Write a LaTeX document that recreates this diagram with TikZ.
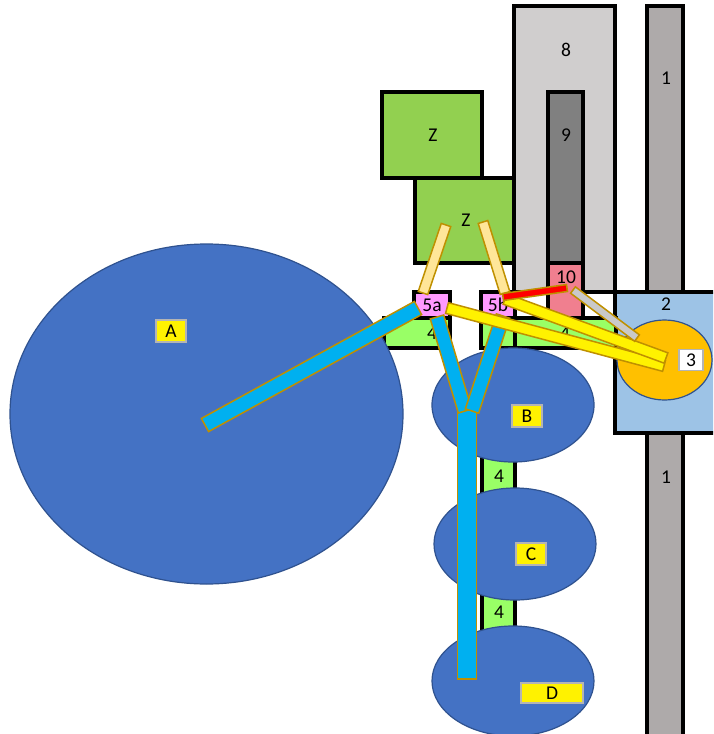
\documentclass[tikz,border=0pt]{standalone}
\usepackage{fontspec}
\setmainfont{Carlito}
\usetikzlibrary{calc}

\definecolor{blueA}{HTML}{4472C4}
\definecolor{blueEdge}{HTML}{2F528F}
\definecolor{rodBlue}{HTML}{00B0F0}
\definecolor{goldEdge}{HTML}{BF9000}
\definecolor{paleOrange}{HTML}{FFE699}
\definecolor{greyLight}{HTML}{D0CECE}
\definecolor{greyDark}{HTML}{808080}
\definecolor{greyRail}{HTML}{AEAAAA}
\definecolor{pinkTen}{HTML}{F07F8F}
\definecolor{pinkFive}{HTML}{FF99FF}
\definecolor{greenZ}{HTML}{92D050}
\definecolor{greenFour}{HTML}{99FF66}
\definecolor{blueTwo}{HTML}{9DC3E6}
\definecolor{orangeThree}{HTML}{FFC000}
\definecolor{tagEdge}{HTML}{B4B4B4}
\definecolor{greyRod}{HTML}{C9C9C9}

% rod from #1 to #2, half width #3, fill #4
\newcommand{\rodbar}[4]{%
  \draw[rodline, fill=#4] ($(#1)!#3!90:(#2)$) -- ($(#2)!#3!-90:(#1)$)
    -- ($(#2)!#3!90:(#1)$) -- ($(#1)!#3!-90:(#2)$) -- cycle;}

\begin{document}
\begin{tikzpicture}[x=1pt, y=-1pt,
  box/.style={draw=black, line width=4pt},
  blob/.style={draw=blueEdge, line width=1.2pt, fill=blueA},
  rodline/.style={draw=goldEdge, line width=1.5pt, line join=miter},
  tag/.style={draw=tagEdge, line width=1.2pt, fill=yellow, inner sep=0pt,
    minimum width=30pt, minimum height=22pt},
  every node/.style={font=\fontsize{19.5}{23}\selectfont}]
  \useasboundingbox (0,0) rectangle (713,734);
  \fill[white] (0,0) rectangle (713,734);
  \clip (0,0) rectangle (713,734);

  % rails and housings
  \draw[box, fill=greyLight] (514,6) rectangle (615,292);
  \draw[box, fill=white] (514,292) rectangle (615,318);
  \draw[box, fill=greyDark] (548,92) rectangle (583,263);
  \draw[box, fill=pinkTen] (548,263) rectangle (583,318);
  \draw[box, fill=greyRail] (647,6) rectangle (683,745);
  \draw[box, fill=blueTwo] (615,292) rectangle (725,433);
  \draw[box, fill=greenZ] (382,92) rectangle (482,178);
  \draw[box, fill=greenZ] (415,178) rectangle (514,263);

  % green spacers
  \draw[box, fill=greenFour] (384,318) rectangle (450,348);
  \draw[box, fill=greenFour] (481,318) rectangle (515,348);
  \draw[box, fill=greenFour] (515,318) rectangle (616,348);
  \draw[box, fill=greenFour] (482,454) rectangle (515,496);
  \draw[box, fill=greenFour] (482,591) rectangle (515,634);
  \draw[box, fill=pinkFive] (414,292) rectangle (450,318);
  \draw[box, fill=pinkFive] (481,292) rectangle (515,318);

  % wheels
  \draw[blob] (206.5,414) ellipse [x radius=196.5, y radius=170];
  \draw[blob] (513,405) ellipse [x radius=81, y radius=57];
  \draw[blob] (515,544) ellipse [x radius=81, y radius=56];
  \draw[blob] (513,681) ellipse [x radius=81, y radius=55];
  \draw[blob, fill=orangeThree] (664.5,360) ellipse [x radius=47.5, y radius=40];

  % labels
  \node (lbl8) at (566,50) {8};
  \node (lbl9) at (566,135) {9};
  \node (lbl10) at (566,277) {10};
  \node (lbl1top) at (666,78) {1};
  \node (lbl1low) at (666,477) {1};
  \node (lbl2) at (666,304) {2};
  \node (lblZtop) at (433,135) {Z};
  \node (lblZlow) at (466,220) {Z};
  \node (lbl5a) at (432,305) {5a};
  \node (lbl5b) at (498,305) {5b};
  \node (lbl4left) at (432,333) {4};
  \node (lbl4right) at (565,333) {4};
  \node (lbl4upper) at (499,476) {4};
  \node (lbl4lower) at (499,612) {4};
  \node[tag] (tagA) at (171,331) {A};
  \node[tag] (tagB) at (527,416) {B};
  \node[tag] (tagC) at (531,554) {C};
  \node[tag, minimum width=62pt, minimum height=20pt] (tagD) at (552,693) {D};
  \node[tag, fill=white, minimum width=24pt, minimum height=21pt] (tag3) at (691,360) {3};

  % rod ends
  \coordinate (zLeft) at (446,225);
  \coordinate (zRight) at (483,222);
  \coordinate (fiveATop) at (423,293);
  \coordinate (fiveBTop) at (505,293);
  \coordinate (hubA) at (205,425);
  \coordinate (fiveAArm) at (418,308);
  \coordinate (fiveALow) at (437,317);
  \coordinate (fiveBLow) at (503,316);
  \coordinate (forkL) at (465,411);
  \coordinate (forkR) at (472,411);
  \coordinate (shaftTop) at (467,408);
  \coordinate (shaftEnd) at (467,679);
  \coordinate (fiveAOut) at (447,308);
  \coordinate (fiveBOut) at (505,299);
  \coordinate (hubThreeA) at (664,366);
  \coordinate (hubThreeB) at (666,358);
  \coordinate (fiveBRed) at (503,297);
  \coordinate (tenRed) at (567,288);
  \coordinate (tenGrey) at (573,290);
  \coordinate (twoGrey) at (637,338);

  % rods
  \rodbar{zLeft}{fiveATop}{5pt}{paleOrange}
  \rodbar{zRight}{fiveBTop}{5pt}{paleOrange}
  \rodbar{shaftTop}{shaftEnd}{9.5pt}{rodBlue}
  \rodbar{fiveALow}{forkL}{7pt}{rodBlue}
  \rodbar{fiveBLow}{forkR}{7pt}{rodBlue}
  \rodbar{hubA}{fiveAArm}{7.5pt}{rodBlue}
  \rodbar{fiveAOut}{hubThreeA}{5.5pt}{yellow}
  \rodbar{fiveBOut}{hubThreeB}{5.5pt}{yellow}
  \rodbar{fiveBRed}{tenRed}{3.5pt}{red}
  \rodbar{tenGrey}{twoGrey}{4pt}{greyRod}
\end{tikzpicture}
\end{document}
